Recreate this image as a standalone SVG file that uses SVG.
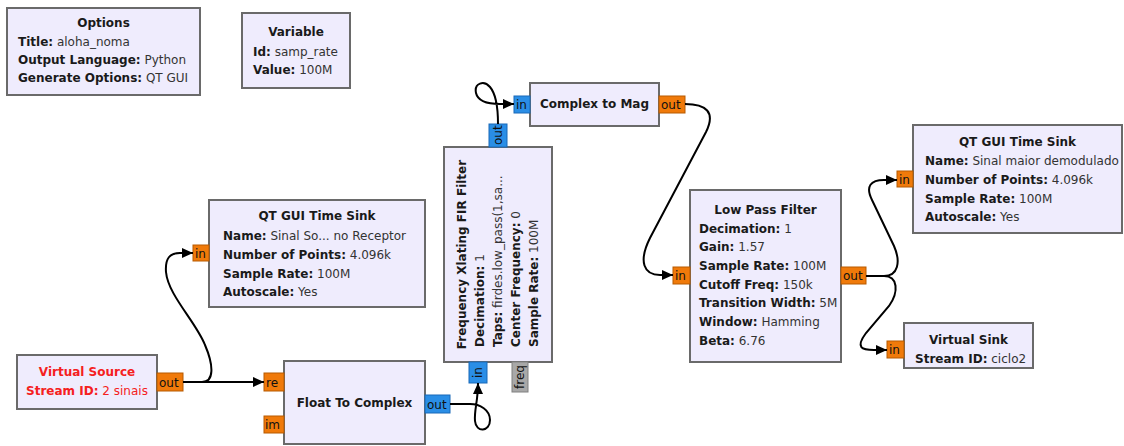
<svg xmlns="http://www.w3.org/2000/svg" width="1124" height="446" viewBox="0 0 1124 446">
<style>
.blk{fill:#EFECFD;stroke:#6A6A6A;stroke-width:2}
.t{font-family:"DejaVu Sans",sans-serif;font-size:12px;fill:#1a1a1a}
.b{font-weight:bold}
.v{fill:#333}
.mid{text-anchor:middle}
.red{fill:#F52020}
.po{fill:#F07A0A;stroke:#B75A00;stroke-width:1}
.pb{fill:#2A8EE6;stroke:#1868B8;stroke-width:1}
.pg{fill:#A8A8A8;stroke:#808080;stroke-width:1}
.pl{font-family:"DejaVu Sans",sans-serif;font-size:12px;fill:#111}
.c{fill:none;stroke:#000;stroke-width:2}
</style>
<defs>
<marker id="ar" markerUnits="userSpaceOnUse" markerWidth="12" markerHeight="10" refX="11" refY="5" orient="auto">
<path d="M0,0 L11,5 L0,10 z" fill="#000"/>
</marker>
</defs>

<g id="options">
<rect class="blk" x="7" y="8" width="193" height="87"/>
<text class="t b mid" x="103.5" y="27">Options</text>
<text class="t" x="18" y="46"><tspan class="b">Title:</tspan><tspan class="v"> aloha_noma</tspan></text>
<text class="t" x="18" y="64"><tspan class="b">Output Language:</tspan><tspan class="v"> Python</tspan></text>
<text class="t" x="18" y="82"><tspan class="b">Generate Options:</tspan><tspan class="v"> QT GUI</tspan></text>
</g>

<g id="variable">
<rect class="blk" x="242" y="13" width="108" height="75"/>
<text class="t b mid" x="296" y="36">Variable</text>
<text class="t" x="253" y="56"><tspan class="b">Id:</tspan><tspan class="v"> samp_rate</tspan></text>
<text class="t" x="253" y="74"><tspan class="b">Value:</tspan><tspan class="v"> 100M</tspan></text>
</g>

<g id="qt_time_sink_1">
<rect class="blk" x="209" y="200" width="216" height="107"/>
<text class="t b mid" x="317" y="220">QT GUI Time Sink</text>
<text class="t" x="223" y="240"><tspan class="b">Name:</tspan><tspan class="v"> Sinal So... no Receptor</tspan></text>
<text class="t" x="223" y="259"><tspan class="b">Number of Points:</tspan><tspan class="v"> 4.096k</tspan></text>
<text class="t" x="223" y="278"><tspan class="b">Sample Rate:</tspan><tspan class="v"> 100M</tspan></text>
<text class="t" x="223" y="296"><tspan class="b">Autoscale:</tspan><tspan class="v"> Yes</tspan></text>
<rect class="po" x="193" y="245" width="16" height="16"/>
<text class="pl" x="195" y="258">in</text>
</g>

<g id="virtual_source">
<rect class="blk" x="17" y="355" width="140" height="54"/>
<text class="t b mid red" x="87" y="376">Virtual Source</text>
<text class="t mid red" x="87" y="395"><tspan class="b">Stream ID:</tspan> 2 sinais</text>
<rect class="po" x="157" y="373" width="26" height="18"/>
<text class="pl" x="159" y="387">out</text>
</g>

<g id="float_to_complex">
<rect class="blk" x="284" y="361" width="141" height="83"/>
<text class="t b mid" x="354.5" y="407">Float To Complex</text>
<rect class="po" x="264" y="373" width="20" height="18"/>
<text class="pl" x="266" y="387">re</text>
<rect class="po" x="264" y="416" width="20" height="17"/>
<text class="pl" x="265" y="429">im</text>
<rect class="pb" x="425" y="395" width="25" height="18"/>
<text class="pl" x="427" y="409">out</text>
</g>

<g id="freq_xlating_fir">
<rect class="blk" x="444" y="147" width="108" height="215"/>
<text class="t b mid" transform="translate(466,254.5) rotate(-90)">Frequency Xlating FIR Filter</text>
<text class="t" transform="translate(484,347) rotate(-90)"><tspan class="b">Decimation:</tspan><tspan class="v"> 1</tspan></text>
<text class="t" transform="translate(502,347) rotate(-90)"><tspan class="b">Taps:</tspan><tspan class="v"> firdes.low_pass(1,sa...</tspan></text>
<text class="t" transform="translate(520,347) rotate(-90)"><tspan class="b">Center Frequency:</tspan><tspan class="v"> 0</tspan></text>
<text class="t" transform="translate(538,347) rotate(-90)"><tspan class="b">Sample Rate:</tspan><tspan class="v"> 100M</tspan></text>
<rect class="pb" x="489" y="124" width="18" height="23"/>
<text class="pl" transform="translate(502,145) rotate(-90)">out</text>
<rect class="pb" x="469" y="362" width="18" height="21"/>
<text class="pl" transform="translate(482,378) rotate(-90)">in</text>
<rect class="pg" x="512" y="362" width="16" height="30"/>
<text class="pl" transform="translate(524,389) rotate(-90)">freq</text>
</g>

<g id="complex_to_mag">
<rect class="blk" x="530" y="83" width="129" height="43"/>
<text class="t b mid" x="594.5" y="108">Complex to Mag</text>
<rect class="pb" x="514" y="96" width="16" height="17"/>
<text class="pl" x="516" y="109">in</text>
<rect class="po" x="659" y="96" width="26" height="17"/>
<text class="pl" x="661" y="109">out</text>
</g>

<g id="low_pass_filter">
<rect class="blk" x="690" y="190" width="151" height="172"/>
<text class="t b mid" x="765.5" y="214">Low Pass Filter</text>
<text class="t" x="699" y="233"><tspan class="b">Decimation:</tspan><tspan class="v"> 1</tspan></text>
<text class="t" x="699" y="251"><tspan class="b">Gain:</tspan><tspan class="v"> 1.57</tspan></text>
<text class="t" x="699" y="270"><tspan class="b">Sample Rate:</tspan><tspan class="v"> 100M</tspan></text>
<text class="t" x="699" y="289"><tspan class="b">Cutoff Freq:</tspan><tspan class="v"> 150k</tspan></text>
<text class="t" x="699" y="307"><tspan class="b">Transition Width:</tspan><tspan class="v"> 5M</tspan></text>
<text class="t" x="699" y="326"><tspan class="b">Window:</tspan><tspan class="v"> Hamming</tspan></text>
<text class="t" x="699" y="345"><tspan class="b">Beta:</tspan><tspan class="v"> 6.76</tspan></text>
<rect class="po" x="673" y="267" width="17" height="17"/>
<text class="pl" x="675" y="280">in</text>
<rect class="po" x="841" y="267" width="25" height="17"/>
<text class="pl" x="843" y="280">out</text>
</g>

<g id="qt_time_sink_2">
<rect class="blk" x="913" y="125" width="209" height="108"/>
<text class="t b mid" x="1017.5" y="146">QT GUI Time Sink</text>
<text class="t" x="925" y="165"><tspan class="b">Name:</tspan><tspan class="v"> Sinal maior demodulado</tspan></text>
<text class="t" x="925" y="184"><tspan class="b">Number of Points:</tspan><tspan class="v"> 4.096k</tspan></text>
<text class="t" x="925" y="203"><tspan class="b">Sample Rate:</tspan><tspan class="v"> 100M</tspan></text>
<text class="t" x="925" y="221"><tspan class="b">Autoscale:</tspan><tspan class="v"> Yes</tspan></text>
<rect class="po" x="897" y="171" width="16" height="16"/>
<text class="pl" x="899" y="184">in</text>
</g>

<g id="virtual_sink">
<rect class="blk" x="904" y="323" width="129" height="45"/>
<text class="t b mid" x="968.5" y="344">Virtual Sink</text>
<text class="t" x="915" y="363"><tspan class="b">Stream ID:</tspan><tspan class="v"> ciclo2</tspan></text>
<rect class="po" x="887" y="341" width="17" height="17"/>
<text class="pl" x="889" y="354">in</text>
</g>

<g id="connectors">
<path class="c" marker-end="url(#ar)" d="M183,382 H202 C214,382 214,366 205,345 C196,322 168,295 166,272 C165,258 170,253 180,253 H193"/>
<path class="c" marker-end="url(#ar)" d="M183,382 H264"/>
<path class="c" marker-end="url(#ar)" d="M450,404 H470 C480,404 490,410 490,420 C490,432 476,433 475,421 C474,410 478,402 478,383"/>
<path class="c" marker-end="url(#ar)" d="M498,124 C498,108 496,94 490,87 C484,80 474,83 476,93 C478,102 490,104 500,104 H514"/>
<path class="c" marker-end="url(#ar)" d="M685,104 C706,104 716,112 706,132 L650,238 C638,262 644,275 660,275 H673"/>
<path class="c" marker-end="url(#ar)" d="M866,276 H884 C898,276 901,262 894,246 L872,200 C865,186 871,180 884,180 H897"/>
<path class="c" marker-end="url(#ar)" d="M866,276 H884 C898,276 899,292 889,306 L866,333 C855,348 862,350 874,350 H887"/>
</g>
</svg>
